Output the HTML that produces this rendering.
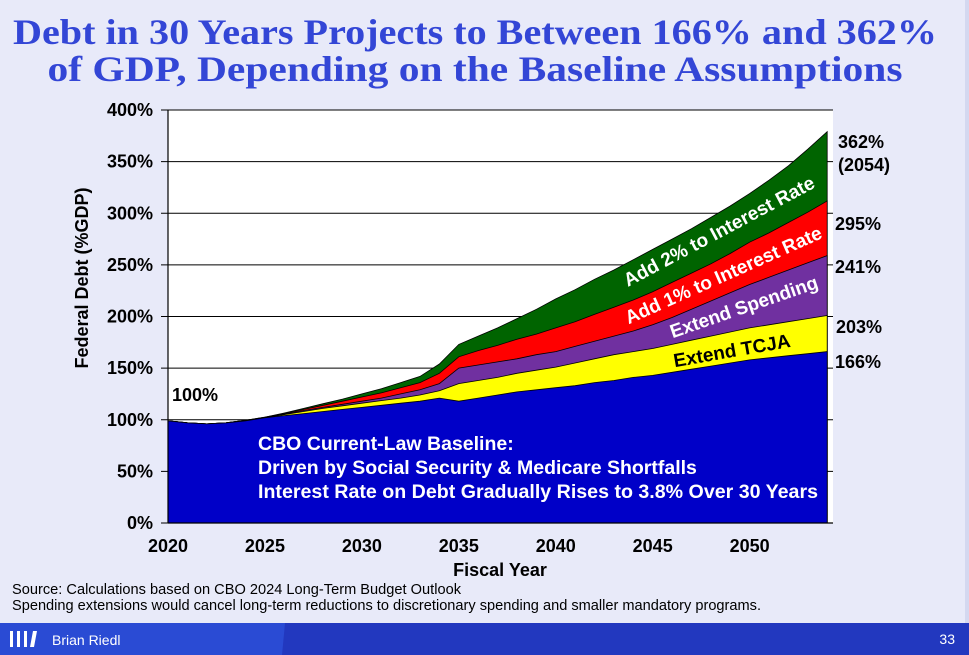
<!DOCTYPE html>
<html><head><meta charset="utf-8"><style>
html,body{margin:0;padding:0;background:#e8eaf9;}
svg{display:block;font-family:"Liberation Sans",Arial,sans-serif;}
</style></head><body>
<svg id="chart" width="969" height="655" viewBox="0 0 969 655" xmlns="http://www.w3.org/2000/svg">
<rect x="0" y="0" width="969" height="655" fill="#e8eaf9"/>
<rect x="965" y="0" width="4" height="623" fill="#d4d8f0"/>
<text x="475" y="44" text-anchor="middle" font-family="'Liberation Serif',serif" font-weight="bold" font-size="36" fill="#3346d6" textLength="924" lengthAdjust="spacingAndGlyphs">Debt in 30 Years Projects to Between 166% and 362%</text>
<text x="475" y="81" text-anchor="middle" font-family="'Liberation Serif',serif" font-weight="bold" font-size="36" fill="#3346d6" textLength="855" lengthAdjust="spacingAndGlyphs">of GDP, Depending on the Baseline Assumptions</text>
<rect x="168" y="110" width="665" height="413" fill="#ffffff"/>
<g id="grid"></g>
<g id="areas"></g>
<line x1="168" y1="110" x2="168" y2="523" stroke="#000" stroke-width="1.2"/>
<line x1="168" y1="523" x2="833" y2="523" stroke="#000" stroke-width="1.2"/>
<g id="yticks" font-weight="bold" font-size="18" fill="#000"></g>
<g id="xticks" font-weight="bold" font-size="18" fill="#000"></g>
<text x="500" y="576" text-anchor="middle" font-weight="bold" font-size="18">Fiscal Year</text>
<text transform="translate(88,278) rotate(-90)" text-anchor="middle" font-weight="bold" font-size="18">Federal Debt (%GDP)</text>
<text x="172" y="401" font-weight="bold" font-size="18">100%</text>
<g font-weight="bold" font-size="18" fill="#000">
<text x="838" y="148">362%</text>
<text x="838" y="171">(2054)</text>
<text x="835" y="230">295%</text>
<text x="835" y="273">241%</text>
<text x="836" y="333">203%</text>
<text x="835" y="368">166%</text>
</g>
<g font-weight="bold" font-size="19">
<text transform="translate(722,237) rotate(-28)" text-anchor="middle" fill="#fff">Add 2% to Interest Rate</text>
<text transform="translate(726,281) rotate(-24)" text-anchor="middle" fill="#fff">Add 1% to Interest Rate</text>
<text transform="translate(746,313) rotate(-19)" text-anchor="middle" fill="#fff">Extend Spending</text>
<text transform="translate(733,357) rotate(-10)" text-anchor="middle" fill="#000">Extend TCJA</text>
</g>
<g font-weight="bold" font-size="19.5" fill="#fff">
<text x="258" y="450">CBO Current-Law Baseline:</text>
<text x="258" y="474">Driven by Social Security &amp; Medicare Shortfalls</text>
<text x="258" y="498" textLength="560" lengthAdjust="spacingAndGlyphs">Interest Rate on Debt Gradually Rises to 3.8% Over 30 Years</text>
</g>
<text x="12" y="594" font-size="14.5" textLength="449" lengthAdjust="spacingAndGlyphs">Source: Calculations based on CBO 2024 Long-Term Budget Outlook</text>
<text x="12" y="610" font-size="14.5" textLength="749" lengthAdjust="spacingAndGlyphs">Spending extensions would cancel long-term reductions to discretionary spending and smaller mandatory programs.</text>
<rect x="0" y="623" width="969" height="32" fill="#2238bf"/>
<polygon points="0,623 285,623 282,655 0,655" fill="#2a4bd4"/>
<g fill="#fff"><rect x="10" y="631" width="3" height="16"/><rect x="17" y="631" width="3" height="16"/><rect x="24" y="631" width="3" height="16"/><polygon points="33,631 37,631 34,647 30,647"/></g>
<text x="52" y="645" font-size="14" fill="#fff">Brian Riedl</text>
<text x="955" y="644" text-anchor="end" font-size="14" fill="#fff">33</text>
</svg>
<script>
const years=[2020,2021,2022,2023,2024,2025,2026,2027,2028,2029,2030,2031,2032,2033,2034,2035,2036,2037,2038,2039,2040,2041,2042,2043,2044,2045,2046,2047,2048,2049,2050,2051,2052,2053,2054];
const baseline=[99,97,96,97,99,102,104,106,108,110,112,114,116,118,121,118,121,124,127,129,131,133,136,138,141,143,146,149,152,155,158,160,162,164,166];
const tcja=[99,97,96,97,99.5,102,105,108,111,113.5,116,118.5,121,124,128,135,138,141,145,148,151,155,159,163,166,169,173,177,181,185,189,192,195,198,201];
const spending=[99,97,96,97,99.5,102,105.5,109,112,115,118,121,125,129,135,150,153,156,159,163,166,171,176,181,186,192,199,207,215,223,231,238,245,252,259];
const rate1=[99,97,96,97,99.5,102.5,106,110,114,118,122,126,131,136,145,161,167,172,178,183,189,195,202,209,216,224,233,242,251,261,272,281,291,301,312];
const rate2=[99,97,96,97,99.5,102.5,106.5,111,115.5,120,125,130,136,142,154,173,181,189,198,207,217,226,236,245,255,265,275,285,296,307,319,332,346,362,379];
const yTicks=[0,50,100,150,200,250,300,350,400];
const xTicks=[2020,2025,2030,2035,2040,2045,2050];
const NS="http://www.w3.org/2000/svg";
const X=y=>168+(y-2020)*(665/34.3);
const Y=v=>523-v*413/400;
const grid=document.getElementById('grid');
yTicks.forEach(t=>{
  const l=document.createElementNS(NS,'line');
  l.setAttribute('x1',168);l.setAttribute('x2',833);l.setAttribute('y1',Y(t));l.setAttribute('y2',Y(t));
  l.setAttribute('stroke','#000');l.setAttribute('stroke-width','1');
  
  
  grid.appendChild(l);
  const tx=document.createElementNS(NS,'text');
  tx.setAttribute('x',153);tx.setAttribute('y',Y(t)+6);tx.setAttribute('text-anchor','end');
  tx.textContent=t+'%';
  
  
  document.getElementById('yticks').appendChild(tx);
  const tk=document.createElementNS(NS,'line');
  tk.setAttribute('x1',161);tk.setAttribute('x2',168);tk.setAttribute('y1',Y(t));tk.setAttribute('y2',Y(t));tk.setAttribute('stroke','#000');
  
  
  document.getElementById('yticks').appendChild(tk);
});
xTicks.forEach(t=>{
  const tx=document.createElementNS(NS,'text');
  tx.setAttribute('x',X(t));tx.setAttribute('y',552);tx.setAttribute('text-anchor','middle');
  tx.textContent=t;
  
  
  document.getElementById('xticks').appendChild(tx);
});
const layers=[[rate2,'#006400','area-add-2pct'],[rate1,'#ff0000','area-add-1pct'],[spending,'#7030a0','area-extend-spending'],[tcja,'#ffff00','area-extend-tcja'],[baseline,'#0000c8','area-baseline']];
const areas=document.getElementById('areas');
layers.forEach(([vals,col,name])=>{
  let d='M'+X(years[0])+','+Y(0);
  years.forEach((yr,i)=>{d+=' L'+X(yr).toFixed(1)+','+Y(vals[i]).toFixed(1);});
  d+=' L'+X(years[years.length-1])+','+Y(0)+' Z';
  const p=document.createElementNS(NS,'path');
  p.setAttribute('d',d);p.setAttribute('fill',col);p.setAttribute('stroke','#000');p.setAttribute('stroke-width','0.8');
  
  
  areas.appendChild(p);
});
</script>
</body></html>
